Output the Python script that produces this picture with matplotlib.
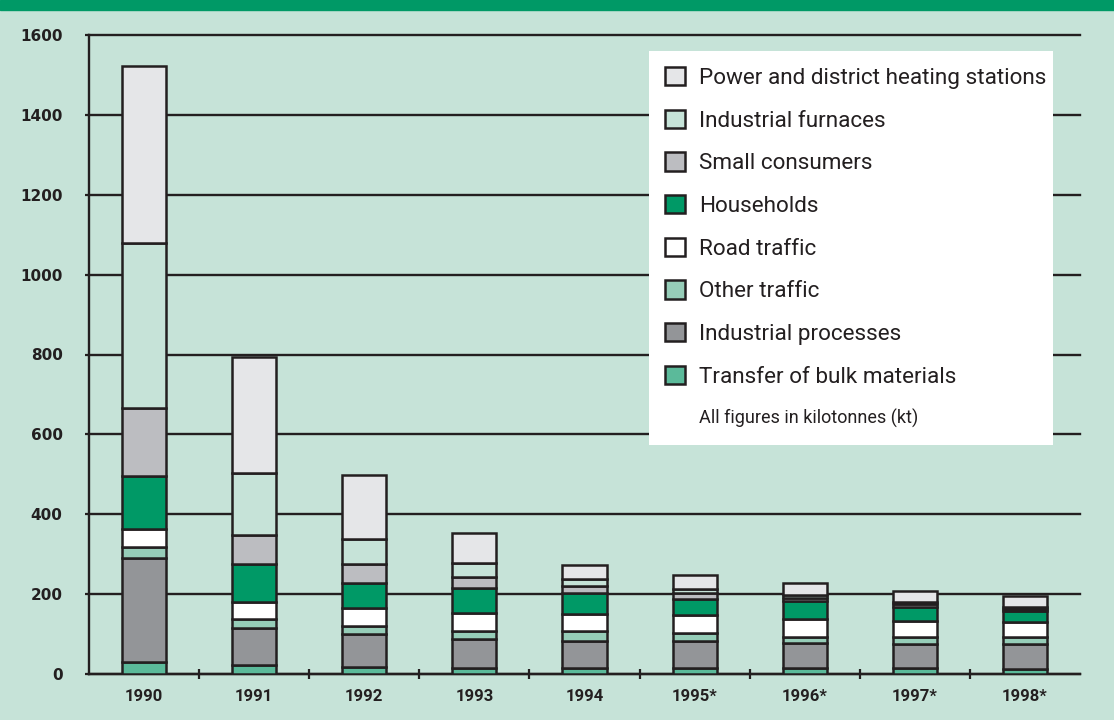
import numpy as np
import matplotlib
matplotlib.use('Agg')
import matplotlib.pyplot as plt
from matplotlib.patches import Rectangle

# Data (kilotonnes)
years = ['1990', '1991', '1992', '1993', '1994', '1995*', '1996*', '1997*', '1998*']
transfer = [30, 22, 18, 16, 16, 15, 16, 14, 13]
ind_proc = [260, 92, 81, 71, 67, 68, 62, 60, 61]
other_traffic = [27, 24, 20, 20, 24, 19, 15, 19, 19]
road = [45, 43, 46, 46, 43, 45, 44, 40, 36]
households = [135, 94, 62, 63, 54, 42, 46, 35, 29]
small = [168, 74, 48, 27, 17, 13, 8, 7, 6]
ind_furn = [415, 154, 63, 36, 16, 10, 7, 5, 5]
power = [442, 291, 161, 75, 37, 36, 30, 28, 27]

series = [
    ('Transfer of bulk materials', transfer, '#5bba9a'),
    ('Industrial processes', ind_proc, '#939598'),
    ('Other traffic', other_traffic, '#96cdb8'),
    ('Road traffic', road, '#ffffff'),
    ('Households', households, '#009966'),
    ('Small consumers', small, '#bcbdc1'),
    ('Industrial furnaces', ind_furn, '#c6e3d8'),
    ('Power and district heating stations', power, '#e5e6e8'),
]

bg = '#c6e3d8'
dark = '#231f20'

fig = plt.figure(figsize=(11.14, 7.2), dpi=100)
fig.set_facecolor(bg)
ax = fig.add_axes([89/1114, 46/720, 991/1114, 639/720])
ax.set_facecolor('none')

x = np.arange(len(years))
bottom = np.zeros(len(years))
handles = []
for name, vals, col in series:
    b = ax.bar(x, vals, 0.4, bottom=bottom, color=col, edgecolor=dark,
               linewidth=1.8, label=name, zorder=3)
    handles.append(b)
    bottom += np.array(vals)

ax.set_xlim(-0.5, 8.5)
ax.set_ylim(0, 1600)
ax.set_yticks(range(0, 1601, 200))
ax.yaxis.grid(True, color=dark, linewidth=1.7)
ax.set_axisbelow(True)
for gl in ax.yaxis.get_gridlines():
    gl.set_clip_on(False)

ax.set_xticks(x)
ax.set_xticklabels(years, fontfamily='Roboto', fontweight='bold', fontsize=12, color=dark)
ax.set_xticks(np.arange(0.5, 8, 1), minor=True)
ax.tick_params(axis='x', which='major', length=0, pad=11)
ax.tick_params(axis='x', which='minor', direction='inout', length=7, width=1.6, color=dark)
ax.tick_params(axis='y', direction='out', length=3, width=1.6, color=dark, pad=16)
for t in ax.get_yticklabels():
    t.set_fontweight('bold')
    t.set_fontsize(11)
    t.set_color(dark)

for s in ['top', 'right']:
    ax.spines[s].set_visible(False)
for s in ['left', 'bottom']:
    ax.spines[s].set_color(dark)
    ax.spines[s].set_linewidth(1.7)

# header band
fig.patches.append(Rectangle((0, 710/720), 1, 10/720, transform=fig.transFigure,
                             color='#009966', zorder=0))

# legend box
fig.patches.append(Rectangle((649/1114, 275/720), 404/1114, 394/720,
                             transform=fig.transFigure, facecolor='white',
                             edgecolor='none', zorder=1))
leg = fig.legend(handles[::-1], [s[0] for s in series][::-1],
                 loc='upper left', bbox_to_anchor=(665/1114, 1 - 67/720),
                 frameon=False, borderpad=0, borderaxespad=0,
                 handlelength=0.88, handleheight=0.88, handletextpad=0.62,
                 labelspacing=0.92,
                 prop={'family': 'Roboto', 'size': 16.2})
leg.set_zorder(5)
for t in leg.get_texts():
    t.set_color(dark)

fig.text(699/1114, 1 - 418/720, 'All figures in kilotonnes (kt)',
         family='Roboto', fontsize=13, color=dark,
         va='center', ha='left', zorder=6)

fig.savefig('out.png', dpi=100, facecolor=fig.get_facecolor())
